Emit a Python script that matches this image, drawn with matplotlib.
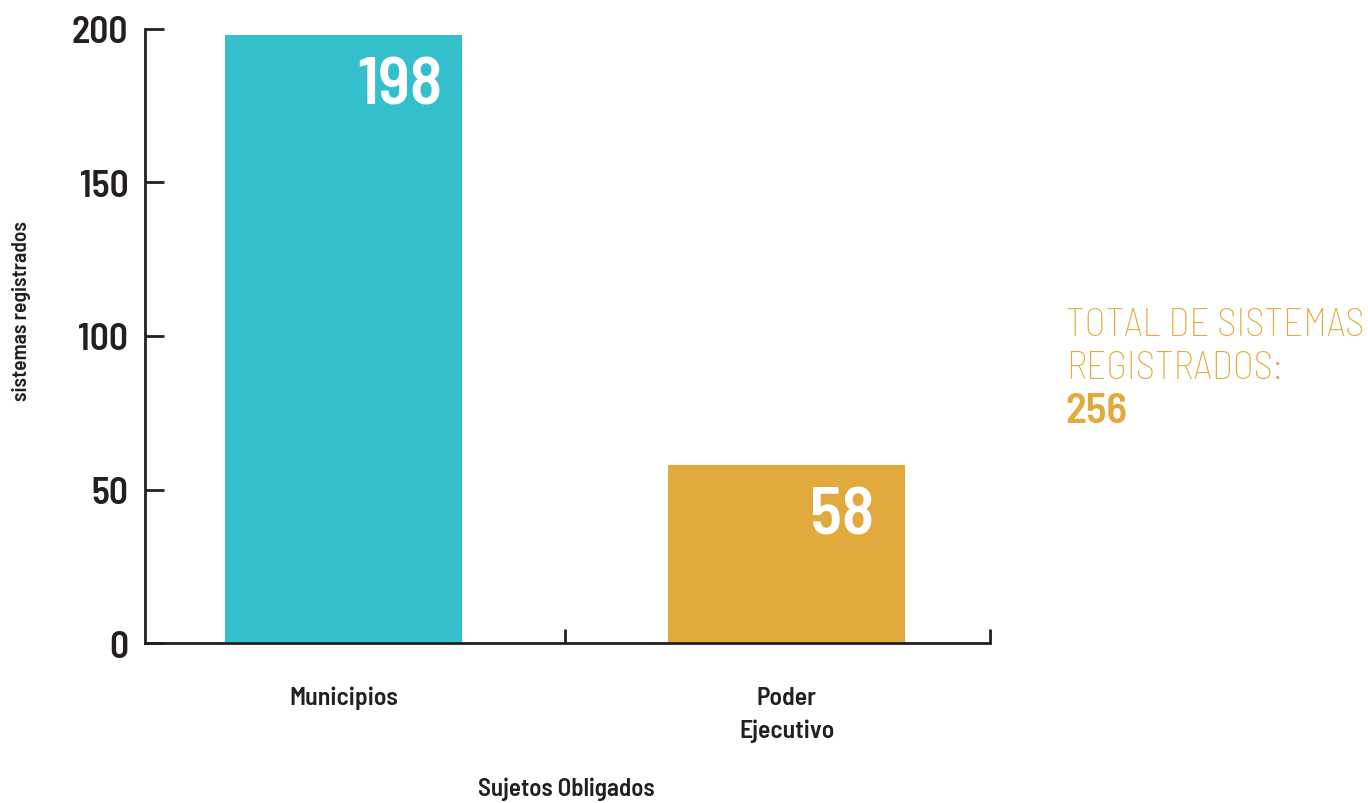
import matplotlib.pyplot as plt
from matplotlib import font_manager

categories = ["Municipios", "Poder\nEjecutivo"]
values = [198, 58]
bar_colors = ["#33C0CC", "#E2A93C"]
total_label = "TOTAL DE SISTEMAS\nREGISTRADOS:"
total_value = sum(values)

# pick a condensed family that resembles the original DIN-like type
names = {f.name for f in font_manager.fontManager.ttflist}
font = "DejaVu Sans"
for cand in ["Barlow Semi Condensed", "Barlow Condensed", "Roboto Condensed",
             "Asap Condensed", "Archivo Narrow"]:
    if cand in names:
        font = cand
        break
plt.rcParams["font.family"] = [font, "DejaVu Sans"]

dark = "#231F20"
gold = "#E2A93C"

fig = plt.figure(figsize=(13.68, 8.04), dpi=100)
ax = fig.add_axes([0.106, 0.199, 0.6177, 0.7637])

x = list(range(len(categories)))
ax.bar(x, values, width=0.535, color=bar_colors, zorder=2)

for xi, v in zip(x, values):
    ax.text(xi + 0.126, v - 7.0, str(v), ha="center", va="top", color="white",
            fontsize=48, fontweight="semibold")

ax.set_xlim(-0.448, 1.459)
ax.set_ylim(0, 200)
ax.set_yticks([0, 50, 100, 150, 200])
ax.set_xticks([0.5, 1.459])
ax.set_xticklabels([])
ax.tick_params(axis="y", direction="in", length=14, width=2, color=dark,
               labelsize=27, labelcolor=dark, pad=12)
ax.tick_params(axis="x", direction="in", length=10, width=2, color=dark)
for lbl in ax.get_yticklabels():
    lbl.set_fontweight("semibold")

for xi, cat in zip(x, categories):
    ax.text(xi, -14, cat, ha="center", va="top", fontsize=18.5, fontweight="semibold",
            color=dark, linespacing=1.52, clip_on=False)

ax.spines["top"].set_visible(False)
ax.spines["right"].set_visible(False)
for side in ["left", "bottom"]:
    ax.spines[side].set_linewidth(2)
    ax.spines[side].set_color(dark)

fig.text(0.016, 0.613, "sistemas registrados", rotation=90, ha="center", va="center",
         fontsize=15.5, fontweight="semibold", color=dark)
fig.text(0.414, 0.018, "Sujetos Obligados", ha="center", va="center",
         fontsize=18, fontweight="semibold", color=dark)

fig.text(0.779, 0.568, total_label, ha="left", va="center", fontsize=28,
         color=gold, fontweight="light", linespacing=1.26)
fig.text(0.779, 0.487, str(total_value), ha="left", va="center", fontsize=31,
         fontweight="semibold", color=gold)

fig.savefig("out.png", dpi=100)
